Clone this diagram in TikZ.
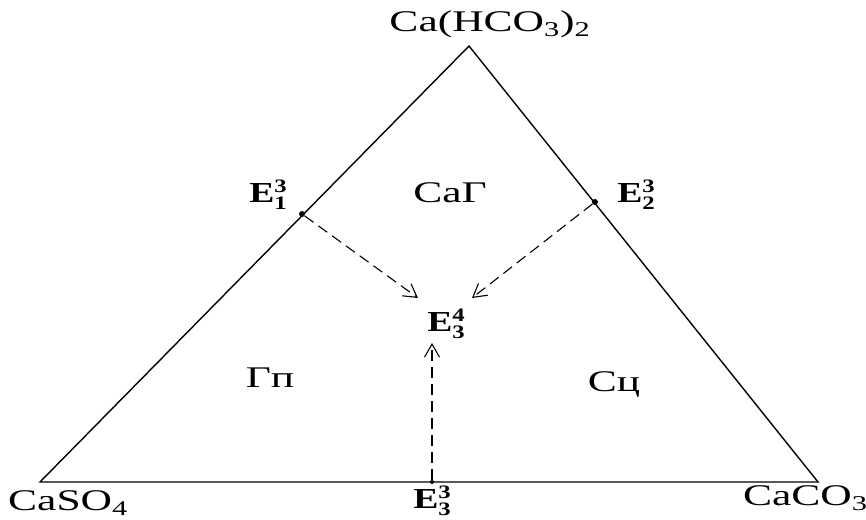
\documentclass[tikz,border=0pt]{standalone}
\usepackage{fontspec}
\usepackage{graphicx}
\setmainfont{Liberation Serif}
\usetikzlibrary{arrows.meta}
\newcommand\wideit[1]{\scalebox{1.45}[1]{#1}}
\newcommand\wideE[1]{\scalebox{1.3}[1]{#1}}
\newcommand\ssub[1]{\textsubscript{#1}}
\newcommand\elab[2]{\wideE{\bfseries E\makebox[0pt][l]{\raisebox{10pt}{\fontsize{19}{19}\selectfont #1}}\raisebox{-7pt}{\fontsize{19}{19}\selectfont #2}}}
\begin{document}
\begin{tikzpicture}[x=1pt,y=-1pt,
  lbl/.style={inner sep=0pt,font=\fontsize{30}{34}\selectfont},
  elbl/.style={inner sep=0pt,font=\fontsize{29}{32}\selectfont},
  dot/.style={circle,fill=black,inner sep=0pt,minimum size=6pt},
  side/.style={line width=1.4pt},
  darr/.style={line width=1.1pt,dash pattern=on 11pt off 6pt,-{Straight Barb[length=13pt,width=15pt]}}]
\useasboundingbox (0,0) rectangle (866,519);
\coordinate (A) at (469,46);
\coordinate (B) at (40,482);
\coordinate (C) at (818,482);
\draw[side] (A) -- (B) -- (C) -- cycle;
\node[dot] (e1) at (302,214) {};
\node[dot] (e2) at (595,202) {};
\node[dot,minimum size=4pt] (e3) at (432,482) {};
\coordinate (t1) at (418,298);
\coordinate (t2) at (472,298);
\coordinate (t3) at (432,343);
\draw[darr] (e1) -- (t1);
\draw[darr] (e2) -- (t2);
\draw[darr] (e3) -- (t3);
\node[lbl] (top) at (490,24) {\wideit{Ca(HCO\ssub{3})\ssub{2}}};
\node[lbl,anchor=west] (l) at (8,503) {\wideit{CaSO\ssub{4}}};
\node[lbl,anchor=east] (r) at (868,498) {\wideit{CaCO\ssub{3}}};
\node[elbl] (E1) at (268,195) {\elab{3}{1}};
\node[elbl] (E2) at (636,195) {\elab{3}{2}};
\node[elbl] (E4) at (446,324) {\elab{4}{3}};
\node[elbl] (E3) at (432,501) {\elab{3}{3}};
\node[lbl] (caG) at (450,193) {\wideit{CaГ}};
\node[lbl] (gp) at (270,378) {\wideit{Гп}};
\node[lbl] (sc) at (614,384) {\wideit{Сц}};
\end{tikzpicture}
\end{document}
